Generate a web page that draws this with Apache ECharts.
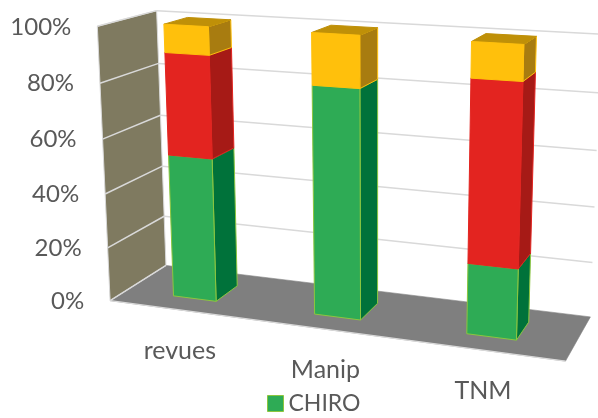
<!DOCTYPE html>
<html>
<head>
<meta charset="utf-8">
<style>html,body{margin:0;padding:0;background:#fff}#chart{width:598px;height:418px}</style>
<script src="https://cdn.jsdelivr.net/npm/echarts@6/dist/echarts.min.js"></script>
</head>
<body>
<div id="chart"></div>
<script>
// Share of each category, stacked to 100 %
const categories = ['revues', 'Manip', 'TNM'];
const chiro = [53, 82, 25];
const middle = [37, 0, 63];
const upper = [10, 18, 12];
const valueTicks = [0, 20, 40, 60, 80, 100];
const legendName = 'CHIRO';

const FONT = 'Lato';
const TEXT = '#595959';
const GRID = '#d9d9d9';

// Camera: chart-box corners (across, height, depth) and where they land on screen
const cameraAnchors = [
  [0, 0, 0, 110, 300], [0, 1, 0, 97, 27],
  [0, 0, 1, 166, 266], [0, 1, 1, 157, 10],
  [1, 0, 1, 590, 317], [1, 1, 1, 601, 34],
  [1, 0, 0, 566, 361]
];

// Least-squares fit of a 3D projective camera to the anchors
function fitCamera(anchors) {
  const n = 11, A = [], b = [];
  anchors.forEach(([u, v, d, X, Y]) => {
    A.push([u, v, d, 1, 0, 0, 0, 0, -X * u, -X * v, -X * d]); b.push(X);
    A.push([0, 0, 0, 0, u, v, d, 1, -Y * u, -Y * v, -Y * d]); b.push(Y);
  });
  const M = [];
  for (let i = 0; i < n; i++) {
    M.push([]);
    for (let j = 0; j < n; j++) M[i].push(A.reduce((s, r) => s + r[i] * r[j], 0));
    M[i].push(A.reduce((s, r, k) => s + r[i] * b[k], 0));
  }
  for (let c = 0; c < n; c++) {
    let p = c;
    for (let r = c + 1; r < n; r++) if (Math.abs(M[r][c]) > Math.abs(M[p][c])) p = r;
    [M[c], M[p]] = [M[p], M[c]];
    for (let r = 0; r < n; r++) {
      if (r === c) continue;
      const f = M[r][c] / M[c][c];
      for (let k = c; k <= n; k++) M[r][k] -= f * M[c][k];
    }
  }
  return M.map((r, i) => r[n] / r[i]);
}
const cam = fitCamera(cameraAnchors);
function project(u, v, d) {
  const w = cam[8] * u + cam[9] * v + cam[10] * d + 1;
  return [
    (cam[0] * u + cam[1] * v + cam[2] * d + cam[3]) / w,
    (cam[4] * u + cam[5] * v + cam[6] * d + cam[7]) / w
  ];
}

// Axis scales give the position inside the grid; normalise before projecting
function toUnit(params, api, cat, val) {
  const c = api.coord([cat, val]), s = params.coordSys;
  return [(c[0] - s.x) / s.width, (s.y + s.height - c[1]) / s.height];
}
const poly = (pts, fill, stroke, lw) => ({
  type: 'polygon', silent: true,
  shape: { points: pts },
  style: { fill: fill, stroke: stroke || fill, lineWidth: lw === undefined ? 1 : lw }
});
const line = (a, b, stroke, lw) => ({
  type: 'line', silent: true,
  shape: { x1: a[0], y1: a[1], x2: b[0], y2: b[1] },
  style: { stroke: stroke, lineWidth: lw, fill: null }
});

const BAR_SHARE = 0.31, DEPTH_FRONT = 0.29, DEPTH_BACK = 0.71;

function boxSeries(name, values, bases, colors) {
  return {
    name: name,
    type: 'custom',
    coordinateSystem: 'cartesian2d',
    clip: false,
    encode: { x: 0, y: [1, 2] },
    data: values.map((v, i) => [i, bases[i], bases[i] + v]),
    renderItem(params, api) {
      const i = api.value(0), lo = api.value(1), hi = api.value(2);
      if (hi <= lo) return { type: 'group', children: [] };
      const half = api.size([1, 0])[0] * BAR_SHARE / 2 / params.coordSys.width;
      const [uc, v0] = toUnit(params, api, i, lo);
      const [, v1] = toUnit(params, api, i, hi);
      const u0 = uc - half, u1 = uc + half;
      const f00 = project(u0, v0, DEPTH_FRONT), f10 = project(u1, v0, DEPTH_FRONT);
      const f01 = project(u0, v1, DEPTH_FRONT), f11 = project(u1, v1, DEPTH_FRONT);
      const b10 = project(u1, v0, DEPTH_BACK), b11 = project(u1, v1, DEPTH_BACK);
      const b01 = project(u0, v1, DEPTH_BACK);
      return {
        type: 'group',
        children: [
          poly([f10, b10, b11, f11], colors.side, colors.edge),
          poly([f01, f11, b11, b01], colors.top, colors.top),
          poly([f00, f10, f11, f01], colors.front, colors.edge)
        ]
      };
    },
    z: 5
  };
}

const stackOne = chiro;
const stackTwo = chiro.map((v, i) => v + middle[i]);

const option = {
  animation: false,
  backgroundColor: '#ffffff',
  grid: { left: 100, right: 30, top: 20, bottom: 110 },
  xAxis: { type: 'category', data: categories, show: false },
  yAxis: { type: 'value', min: 0, max: 100, interval: 20, show: false },
  legend: {
    data: [{
      name: legendName, icon: 'rect',
      itemStyle: { color: '#2eab55', borderColor: '#8cc63f', borderWidth: 1 }
    }],
    left: 267, top: 392,
    itemWidth: 16, itemHeight: 16, itemGap: 6,
    textStyle: { fontFamily: FONT, fontSize: 23, color: TEXT, padding: [2, 0, 0, 0] },
    padding: 0, selectedMode: false
  },
  series: [
    {
      // Floor plane
      type: 'custom', coordinateSystem: 'cartesian2d', clip: false, silent: true,
      encode: { x: 0, y: 1 }, data: [[0, 0]], z: 1,
      renderItem() {
        const a = project(0, 0, 0), b = project(1, 0, 0), c = project(1, 0, 1), d = project(0, 0, 1);
        return {
          type: 'group',
          children: [poly([a, b, c, d], '#7f7f7f', '#7f7f7f', 0.6), line(a, b, GRID, 1.2)]
        };
      }
    },
    {
      // Side wall
      type: 'custom', coordinateSystem: 'cartesian2d', clip: false, silent: true,
      encode: { x: 0, y: 1 }, data: [[0, 0]], z: 2,
      renderItem() {
        return poly(
          [project(0, 0, 0), project(0, 0, 1), project(0, 1, 1), project(0, 1, 0)],
          '#7f7a60', GRID, 1
        );
      }
    },
    {
      // Gridlines across the back wall and side wall
      type: 'custom', coordinateSystem: 'cartesian2d', clip: false, silent: true,
      encode: { x: 0, y: 1 }, data: valueTicks.map(v => [0, v]), z: 3,
      renderItem(params, api) {
        const v = toUnit(params, api, 0, api.value(1))[1];
        const children = [line(project(0, v, 0), project(0, v, 1), GRID, 1.5)];
        if (api.value(1) > 0) children.push(line(project(0, v, 1), project(1, v, 1), GRID, 1.5));
        return { type: 'group', children: children };
      }
    },
    boxSeries(legendName, chiro, chiro.map(() => 0),
      { front: '#2eab55', side: '#00723a', top: '#00723a', edge: '#8cc63f' }),
    boxSeries('middle', middle, stackOne,
      { front: '#e32420', side: '#a61a16', top: '#a61a16', edge: '#e32420' }),
    boxSeries('upper', upper, stackTwo,
      { front: '#ffc00c', side: '#a87c10', top: '#bf9008', edge: '#ffc00c' }),
    {
      // Value labels following the front of the side wall
      type: 'custom', coordinateSystem: 'cartesian2d', clip: false, silent: true,
      encode: { x: 0, y: 1 }, data: valueTicks.map(v => [0, v]), z: 6,
      renderItem(params, api) {
        const val = api.value(1);
        const p = project(0, toUnit(params, api, 0, val)[1], 0);
        return {
          type: 'text', silent: true,
          style: {
            text: val + '%', x: p[0] - 26, y: p[1] + 0.5,
            align: 'right', verticalAlign: 'middle',
            fontFamily: FONT, fontSize: 24, fill: TEXT
          }
        };
      }
    },
    {
      // Category labels below the front edge of the floor
      type: 'custom', coordinateSystem: 'cartesian2d', clip: false, silent: true,
      encode: { x: 0, y: 1 }, data: categories.map((c, i) => [i, 0]), z: 6,
      renderItem(params, api) {
        const i = api.value(0);
        const p = project(toUnit(params, api, i, 0)[0], 0, 0);
        return {
          type: 'text', silent: true,
          style: {
            text: categories[i], x: p[0] + 1, y: p[1] + 41,
            align: 'center', verticalAlign: 'middle',
            fontFamily: FONT, fontSize: 25, fill: TEXT
          }
        };
      }
    }
  ]
};
echarts.init(document.getElementById('chart'), null, { renderer: 'canvas' }).setOption(option);
</script>
</body>
</html>
